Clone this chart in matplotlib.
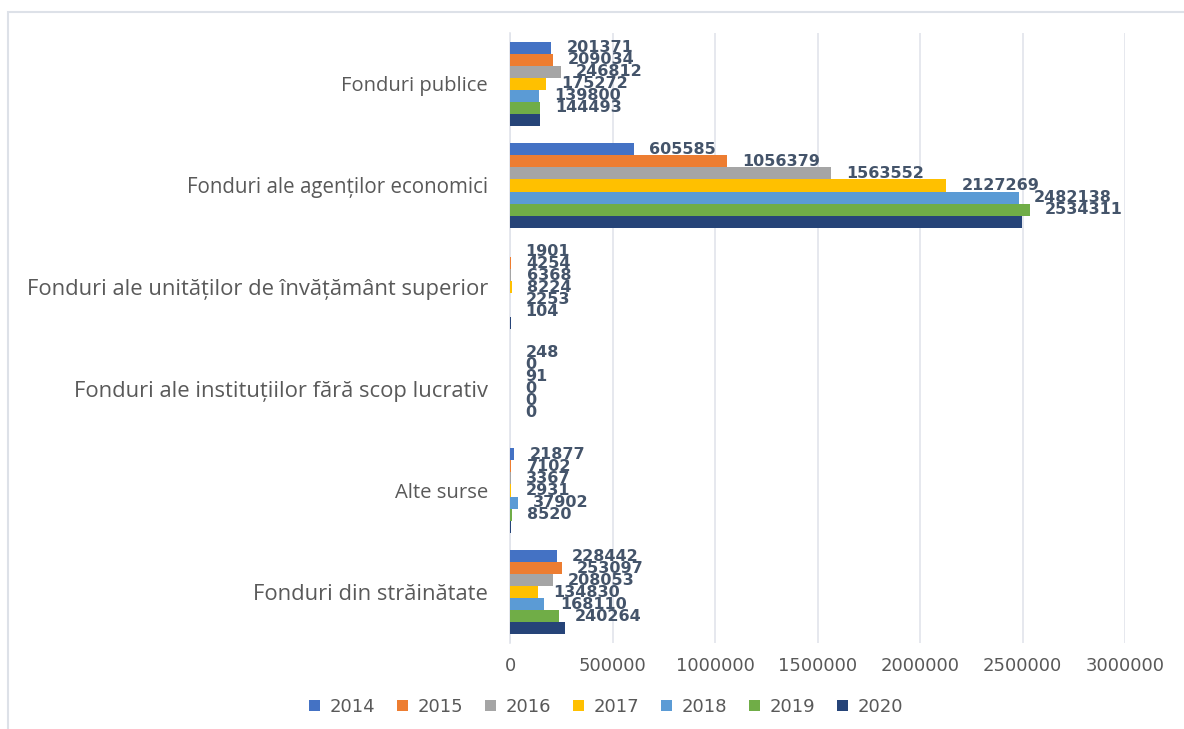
import matplotlib
matplotlib.use('Agg')
import matplotlib.pyplot as plt
import numpy as np
from matplotlib import font_manager
from matplotlib.patches import Rectangle

categories = ['Fonduri publice',
              'Fonduri ale agenților economici',
              'Fonduri ale unităților de învățământ superior',
              'Fonduri ale instituțiilor fără scop lucrativ',
              'Alte surse',
              'Fonduri din străinătate']
years = ['2014', '2015', '2016', '2017', '2018', '2019', '2020']
v2014 = [201371, 605585, 1901, 248, 21877, 228442]
v2015 = [209034, 1056379, 4254, 0, 7102, 253097]
v2016 = [246812, 1563552, 6368, 91, 3367, 208053]
v2017 = [175272, 2127269, 8224, 0, 2931, 134830]
v2018 = [139800, 2482138, 2253, 0, 37902, 168110]
v2019 = [144493, 2534311, 104, 0, 8520, 240264]
v2020 = [148000, 2497000, 5000, 0, 6000, 270000]  # no labels in source
series = [v2014, v2015, v2016, v2017, v2018, v2019, v2020]
labelled = [True, True, True, True, True, True, False]
xticks = [0, 500000, 1000000, 1500000, 2000000, 2500000, 3000000]

colors = ['#4472C4', '#ED7D31', '#A5A5A5', '#FFC000', '#5B9BD5', '#70AD47', '#264478']
label_color = '#44546A'
text_color = '#595959'
grid_color = '#E1E4EB'
# category labels in the source use mixed font sizes
cat_sizes = [14.5, 14.8, 15.8, 15.8, 14.6, 15.8]

available = {f.name for f in font_manager.fontManager.ttflist}
narrow = 'Liberation Sans Narrow' if 'Liberation Sans Narrow' in available else 'DejaVu Sans'
cat_font = 'Open Sans' if 'Open Sans' in available else 'DejaVu Sans'

fig = plt.figure(figsize=(11.84, 7.29), dpi=100)
ax = fig.add_axes([510 / 1184, 1 - 643 / 729, 615 / 1184, 610 / 729])

n = len(years)
group_h = 0.83
bar_h = group_h / n
y = np.arange(len(categories))

for i, (vals, yr) in enumerate(zip(series, years)):
    pos = y - group_h / 2 + bar_h * (i + 0.5)
    bars = ax.barh(pos, vals, height=bar_h, color=colors[i], label=yr, zorder=3)
    if labelled[i]:
        for b, v in zip(bars, vals):
            ax.annotate(str(v), (b.get_width(), b.get_y() + b.get_height() / 2),
                        xytext=(11, 0), textcoords='offset points',
                        ha='left', va='center', fontsize=11.5, fontweight='bold',
                        color=label_color, family='DejaVu Sans', zorder=4)

ax.set_xlim(0, 3000000)
ax.set_ylim(len(categories) - 0.5, -0.5)
ax.set_xticks(xticks)
ax.set_xticklabels([str(t) for t in xticks], family=narrow, fontsize=13, color=text_color)
ax.set_yticks(y)
ax.set_yticklabels(categories, family=cat_font, color=text_color)
for t, s in zip(ax.get_yticklabels(), cat_sizes):
    t.set_fontsize(s)
ax.tick_params(axis='both', length=0)
ax.tick_params(axis='x', pad=10)
ax.tick_params(axis='y', pad=16)
ax.grid(axis='x', color=grid_color, linewidth=1.2, zorder=0)
for s in ['top', 'right', 'bottom']:
    ax.spines[s].set_visible(False)
ax.spines['left'].set_color(grid_color)
ax.spines['left'].set_linewidth(1.2)

leg = fig.legend(loc='center', bbox_to_anchor=(606 / 1184, 1 - 707 / 729), ncol=n,
                 frameon=False, handlelength=0.6, handleheight=0.6, handletextpad=0.5,
                 columnspacing=1.25, prop={'family': narrow, 'size': 13})
for t in leg.get_texts():
    t.set_color(text_color)

fig.patches.append(Rectangle((8 / 1184, -0.01), 1.1, 1 - 12 / 729 + 0.01,
                             transform=fig.transFigure, fill=False,
                             edgecolor='#DDE1E8', linewidth=1.5))

fig.savefig('out.png', dpi=100, facecolor='white')
